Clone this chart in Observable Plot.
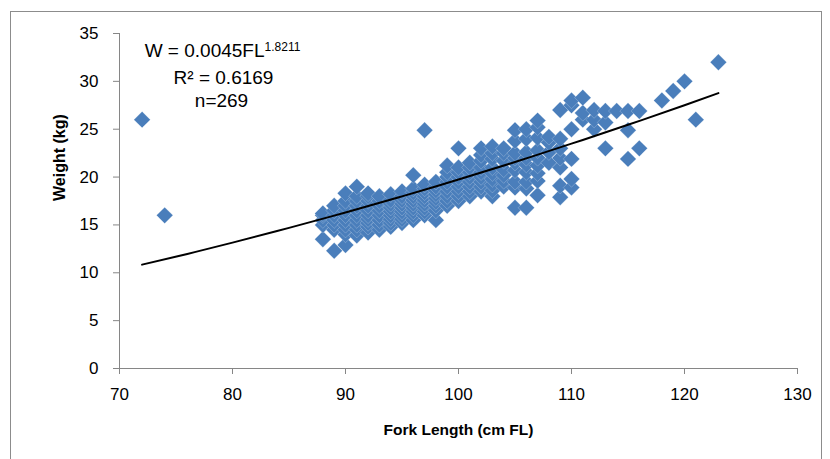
<!DOCTYPE html>
<html><head><meta charset="utf-8">
<script src="https://cdn.jsdelivr.net/npm/d3@7"></script>
<script src="https://cdn.jsdelivr.net/npm/@observablehq/plot@0.6"></script>
<style>
body{margin:0;background:#fff;}
#wrap{position:relative;width:830px;height:459px;overflow:hidden;}
#border{position:absolute;left:10px;top:11px;width:812px;height:470px;border:1px solid #8c8c8c;box-sizing:border-box;}
#chart{position:absolute;left:0;top:0;}
</style></head><body>
<div id="wrap"><div id="border"></div><div id="chart"></div></div>
<script>
// Fork length (cm FL) columns and the weights (kg) observed at each length
const lengths = [72, 74, 88, 89, 90, 91, 92, 93, 94, 95, 96, 97, 98, 99, 100, 101, 102, 103, 104, 105, 106, 107, 108, 109, 110, 111, 112, 113, 114, 115, 116, 118, 119, 120, 121, 123];
const weightsAtLength = [
  [26],
  [16],
  [13.5, 15, 15.5, 16, 16.2],
  [12.3, 14.5, 15, 15.5, 16, 16.5, 17],
  [12.9, 14, 14.5, 15, 15.5, 16, 16.5, 17, 17.5, 18.3],
  [13.9, 14.5, 15, 15.5, 16, 16.5, 17, 17.5, 18, 19],
  [14.2, 14.8, 15.2, 15.6, 16, 16.5, 17, 17.5, 18, 18.3],
  [14.5, 15, 15.5, 16, 16.5, 17, 17.5, 18],
  [14.8, 15.2, 15.6, 16, 16.4, 16.8, 17.2, 17.6, 18.2],
  [15.2, 15.6, 16, 16.4, 16.8, 17.2, 17.6, 18, 18.5],
  [15.5, 16, 16.4, 16.8, 17.2, 17.6, 18, 18.4, 18.8, 20.2],
  [16, 16.4, 16.8, 17.2, 17.6, 18, 18.4, 18.8, 19.2, 24.9],
  [15.5, 16.5, 17, 17.4, 17.8, 18.2, 18.6, 19, 19.5],
  [17, 17.5, 18, 18.5, 19, 19.5, 20, 20.5, 21.2],
  [17.5, 18, 18.5, 19, 19.5, 20, 20.5, 21, 23],
  [18, 18.5, 19, 19.5, 20, 20.5, 21, 21.5],
  [18.5, 19, 19.5, 20, 20.5, 21, 21.7, 22.3, 23],
  [18, 18.6, 19.2, 19.8, 20.4, 21, 21.9, 22.5, 23.2],
  [19, 19.6, 20.2, 20.8, 21.7, 22.5, 23],
  [16.8, 18.9, 19.5, 20.7, 21.5, 22, 22.5, 23.8, 24.9],
  [16.8, 18.8, 19.5, 20.5, 21.3, 22, 22.6, 24, 25],
  [18.1, 19.6, 20.4, 21.2, 22, 22.8, 24.1, 25.2, 25.9],
  [21.5, 22.6, 23.6, 24.2],
  [17.9, 19.1, 21, 22, 23, 24, 27],
  [18.9, 19.8, 21.9, 25, 27.5, 28],
  [26, 26.7, 28.3],
  [25, 26, 27],
  [23, 25.7, 26.9],
  [26.9],
  [21.9, 24.9, 26.9],
  [23, 26.9],
  [28],
  [29],
  [30],
  [26],
  [32]
];
// Power trendline
const trendLength = [72, 76, 80, 85, 90, 95, 100, 105, 110, 115, 120, 123];
const trendWeight = [10.85, 11.97, 13.15, 14.69, 16.30, 17.98, 19.74, 21.57, 23.49, 25.46, 27.51, 28.77];

const xTicks = [70, 80, 90, 100, 110, 120, 130];
const yTicks = [0, 5, 10, 15, 20, 25, 30, 35];
const xTitle = "Fork Length (cm FL)";
const yTitle = "Weight (kg)";
const eqMain = "W = 0.0045FL";
const eqExp = "1.8211";
const eqR2 = "R² = 0.6169";
const eqN = "n=269";

const fish = lengths.flatMap((fl, i) => weightsAtLength[i].map(w => ({fl, w})));
const trend = trendLength.map((fl, i) => ({fl, w: trendWeight[i]}));

const axisGray = "#868686";
const chart = Plot.plot({
  width: 830, height: 459,
  marginLeft: 119, marginRight: 33, marginTop: 33, marginBottom: 91,
  style: {fontFamily: "'Liberation Sans', Arial, sans-serif", fontSize: "17px", color: "black", background: "transparent"},
  x: {domain: [70, 130]},
  y: {domain: [0, 35]},
  marks: [
    Plot.ruleY([0], {stroke: axisGray}),
    Plot.ruleX([70], {stroke: axisGray}),
    Plot.axisX({ticks: xTicks, tickSize: 6, tickPadding: 13, stroke: axisGray, label: null, fontSize: 17}),
    Plot.axisY({ticks: yTicks, tickSize: 6, tickPadding: 15, stroke: axisGray, label: null, fontSize: 17}),
    Plot.dot(fish, {x: "fl", y: "w", symbol: "diamond2", r: 7.4, fill: "#4a7ebb", stroke: "white", strokeWidth: 0.5, strokeOpacity: 0.45}),
    Plot.line(trend, {x: "fl", y: "w", stroke: "black", strokeWidth: 2, curve: "natural"}),
    Plot.text([xTitle], {text: d => d, frameAnchor: "bottom", dy: 62, lineAnchor: "middle", fontWeight: "bold", fontSize: 15.5}),
    Plot.text([yTitle], {text: d => d, frameAnchor: "left", dx: -60, lineAnchor: "middle", rotate: -90, fontWeight: "bold", fontSize: 16}),
    Plot.text([eqMain], {text: d => d, frameAnchor: "top-left", dx: 103, dy: 17, lineAnchor: "middle", fontSize: 19, textAnchor: "middle"}),
    Plot.text([eqR2], {text: d => d, frameAnchor: "top-left", dx: 104, dy: 44, lineAnchor: "middle", fontSize: 19, textAnchor: "middle"}),
    Plot.text([eqN], {text: d => d, frameAnchor: "top-left", dx: 102, dy: 67, lineAnchor: "middle", fontSize: 19, textAnchor: "middle"})
  ]
});
d3.select(chart).selectAll("text").filter(function() { return this.textContent === eqMain; })
  .append("tspan").attr("dy", "-0.5em").attr("font-size", "12px").text(eqExp);
document.getElementById("chart").appendChild(chart);
</script>
</body></html>
